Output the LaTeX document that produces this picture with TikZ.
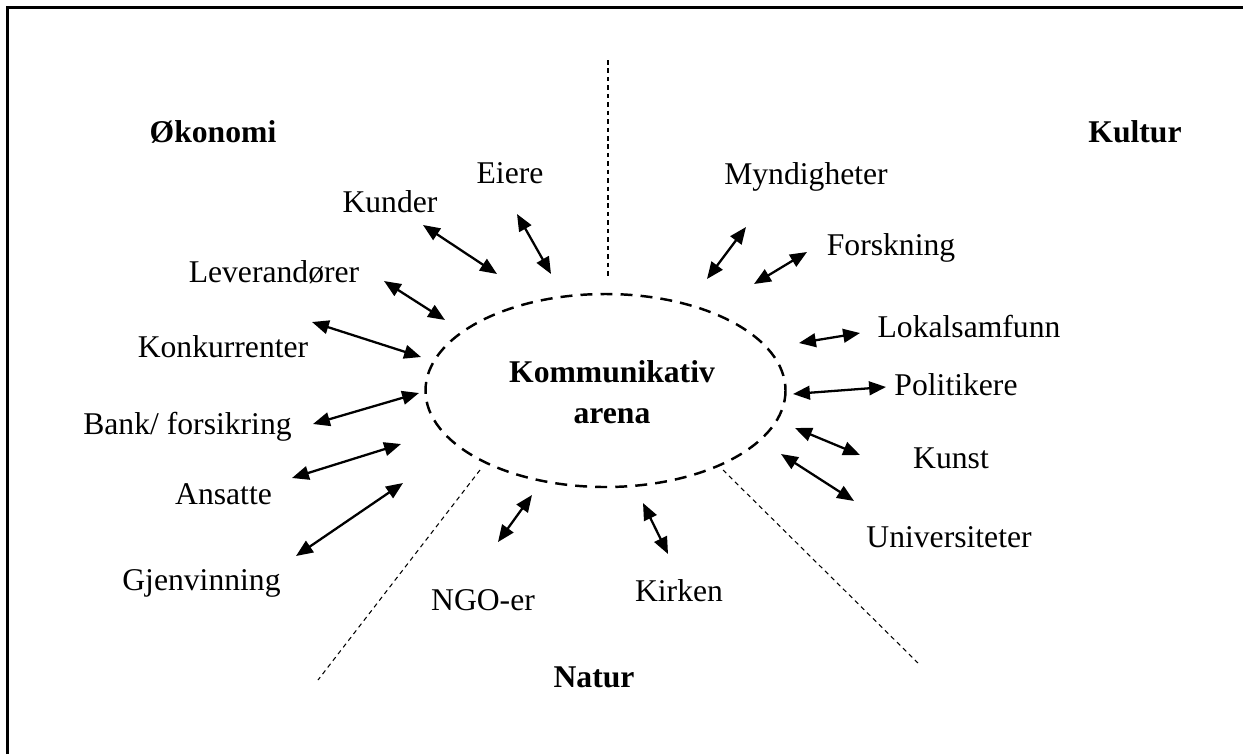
\documentclass[tikz,border=0pt]{standalone}
\usepackage{fontspec}
\setmainfont{Liberation Serif}
\usetikzlibrary{arrows.meta}
\begin{document}
\begin{tikzpicture}[x=0.01cm,y=-0.01cm,
  lbl/.style={inner sep=0pt,font=\fontsize{9}{10.5}\selectfont},
  head/.style={lbl,font=\fontsize{9}{10.5}\selectfont\bfseries},
  link/.style={line width=0.65pt,{Triangle[length=4.8pt,width=3.9pt]}-{Triangle[length=4.8pt,width=3.9pt]}},
  arena/.style={draw,line width=0.7pt,dash pattern=on 3.4pt off 2.3pt},
  divider/.style={line width=0.35pt,dash pattern=on 1.3pt off 1.1pt},
  frame/.style={line width=0.85pt}]
\useasboundingbox (0,0) rectangle (1243,754);

% frame (left and top edges)
\coordinate (fb) at (7.5,754);
\coordinate (fc) at (7.5,7.5);
\coordinate (fr) at (1243,7.5);
\draw[frame] (fb) -- (fc) -- (fr);

% central arena
\draw[arena] (605.5,390.5) ellipse [x radius=180, y radius=96.5];
\node[head,align=center] (arena) at (612,392) {Kommunikativ\\[1pt]arena};

% sector dividers
\coordinate (v1) at (608,60);   \coordinate (v2) at (608,277);
\coordinate (l1) at (480,470);  \coordinate (l2) at (318,680);
\coordinate (r1) at (723,470);  \coordinate (r2) at (918,663);
\draw[divider] (v1) -- (v2);
\draw[divider,line width=0.3pt] (l1) -- (l2);
\draw[divider,line width=0.3pt] (r1) -- (r2);

% sector headings
\node[head] (okonomi) at (213,132) {Økonomi};
\node[head] (kultur)  at (1135,132) {Kultur};
\node[head] (natur)   at (594,677) {Natur};

% stakeholders
\node[lbl] (eiere)   at (510,173) {Eiere};
\node[lbl] (kunder)  at (390,202) {Kunder};
\node[lbl] (lev)     at (274,272) {Leverandører};
\node[lbl] (konk)    at (223,347) {Konkurrenter};
\node[lbl] (bank)    at (187.5,427) {Bank/ forsikring};
\node[lbl] (ansatte) at (223.5,494) {Ansatte};
\node[lbl] (gjenv)   at (201.5,583) {Gjenvinning};
\node[lbl] (ngo)     at (483,600) {NGO-er};
\node[lbl] (kirken)  at (679,591) {Kirken};
\node[lbl] (mynd)    at (806,177) {Myndigheter};
\node[lbl] (forsk)   at (891,248) {Forskning};
\node[lbl] (lokal)   at (969,327) {Lokalsamfunn};
\node[lbl] (polit)   at (956,385) {Politikere};
\node[lbl] (kunst)   at (951,458) {Kunst};
\node[lbl] (univ)    at (949,537) {Universiteter};

% arrow ends: outer (O) and inner (I)
\coordinate (eiO) at (517,214); \coordinate (eiI) at (551,274);
\coordinate (kuO) at (423,225); \coordinate (kuI) at (497,274);
\coordinate (leO) at (384,281); \coordinate (leI) at (445,320);
\coordinate (koO) at (312,322); \coordinate (koI) at (421,357);
\coordinate (baO) at (313,424); \coordinate (baI) at (419,393);
\coordinate (anO) at (292,478); \coordinate (anI) at (401,444);
\coordinate (gjO) at (296,556); \coordinate (gjI) at (403,483);
\coordinate (ngO) at (498,542); \coordinate (ngI) at (532,495);
\coordinate (kiO) at (668,554); \coordinate (kiI) at (643,503);
\coordinate (myO) at (746,227); \coordinate (myI) at (707,279);
\coordinate (foO) at (807,252); \coordinate (foI) at (754,284);
\coordinate (loO) at (860,333); \coordinate (loI) at (799,343);
\coordinate (poO) at (886,387); \coordinate (poI) at (793,394);
\coordinate (ksO) at (860,455); \coordinate (ksI) at (795,428);
\coordinate (unO) at (854,501); \coordinate (unI) at (781,454);

\foreach \a in {ei,ku,le,ko,ba,an,gj,ng,ki,my,fo,lo,po,ks,un}
  \draw[link] (\a O) -- (\a I);
\end{tikzpicture}
\end{document}
